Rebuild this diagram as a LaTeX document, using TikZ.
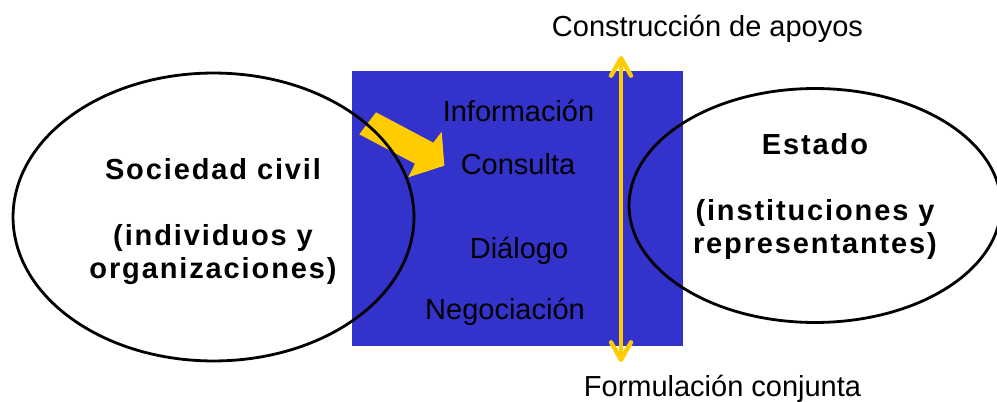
\documentclass[tikz,border=0pt]{standalone}
\usepackage{fontspec}
\setmainfont{Liberation Sans}
\newfontfamily\spacedsans[LetterSpace=6.5,BoldFont={Liberation Sans Bold}]{Liberation Sans}
\usetikzlibrary{arrows.meta,shapes.geometric}
\definecolor{panelblue}{HTML}{3333CC}
\definecolor{gold}{HTML}{FFCC00}

\begin{document}
\begin{tikzpicture}[x=0.02cm, y=-0.02cm, line join=round,
  blob/.style={draw, ellipse, line width=1.6pt, inner sep=0pt},
  actor/.style={font=\fontsize{16.5}{18.8}\selectfont\spacedsans\bfseries, align=center, inner sep=0pt, anchor=north},
  stage/.style={font=\fontsize{16.5}{18.8}\selectfont, inner sep=0pt, anchor=base},
  >={Straight Barb[length=3.5mm,width=4mm,round]}]
\useasboundingbox (0,0) rectangle (997,402);
\fill[panelblue] (352,71) rectangle (683,346);

\coordinate [] (U) at (621,56);
\coordinate [] (L) at (621,362);
\draw[gold, line width=2.5pt, line cap=round, <->] (L) -- (U);
\fill[gold] (376,112.3) -- (433.3,142.7) -- (441.7,131.7) -- (444.3,165.7)
  -- (408.3,177.3) -- (415,163.7) -- (359.3,134.3) -- cycle;

\node[blob, minimum width=8.02cm, minimum height=5.76cm] (civil) at (213.5,217) {};
\node[blob, minimum width=7.44cm, minimum height=4.68cm] (estado) at (815,205.5) {};
\node[actor] (civiltxt) at (213,158) {Sociedad civil\\[18.8pt](individuos y\\organizaciones)};
\node[actor] (estadotxt) at (815,133) {Estado\\[18.8pt](instituciones y\\representantes)};

\foreach \n/\x/\y/\t in {info/518.5/121/Información, consulta/518/174/Consulta,
    dialogo/519/258/Diálogo, nego/505/319/Negociación}
  \node[stage] (\n) at (\x,\y) {\t};
\node[stage] (apoyos) at (707.5,37) {Construcción de apoyos};
\node[stage] (formulacion) at (722.5,396) {Formulación conjunta};
\end{tikzpicture}
\end{document}
